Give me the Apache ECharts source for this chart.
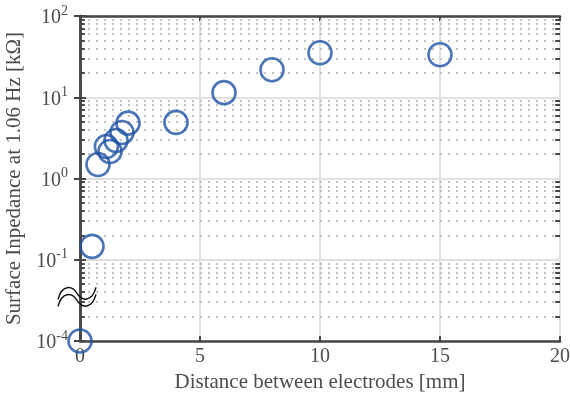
<!DOCTYPE html>
<html><head><meta charset="utf-8">
<script src="https://cdn.jsdelivr.net/npm/echarts@6/dist/echarts.min.js"></script>
<style>html,body{margin:0;padding:0;background:#fff}#c{width:570px;height:396px}</style>
</head><body><div id="c"></div>
<script>
const distances = [0, 0.5, 0.75, 1.1, 1.25, 1.5, 1.75, 2, 4, 6, 8, 10, 15];
const impedances = [1e-4, 0.146, 1.49, 2.48, 2.15, 2.93, 3.68, 4.8, 4.9, 11.4, 21.8, 35.3, 33.3];
const xTicks = [0, 5, 10, 15, 20];
const yDecades = [-2, -1, 0, 1, 2];
const yTickLabels = ['-4', '-1', '0', '1', '2'];
const xName = 'Distance between electrodes [mm]';
const yName = 'Surface Inpedance at 1.06 Hz [kΩ]';

const FONT = 'Liberation Serif';
const TXT = '#4d4d4d';
const FRAME = '#464646';
// broken axis: values below the break are shown two decades higher
const BREAK_BELOW = 0.01, BREAK_SHIFT = 100;
function toAxis(v){ return v < BREAK_BELOW ? v * BREAK_SHIFT : v; }

const minorVals = [];
for (let k = -2; k <= 1; k++) for (let m = 2; m <= 9; m++) minorVals.push(m * Math.pow(10, k));

const gridLines = minorVals.map(v => ({yAxis: v}));
const tickLines = [];
minorVals.forEach(v => {
  tickLines.push([{coord: [0, v]}, {coord: [0.2, v]}]);
  tickLines.push([{coord: [19.8, v]}, {coord: [20, v]}]);
});

const chart = echarts.init(document.getElementById('c'), null, {renderer: 'canvas'});
const labelFmt = v => {
  const e = Math.round(Math.log10(v));
  const i = yDecades.indexOf(e);
  return i < 0 ? '' : '{b|10}{e|' + yTickLabels[i] + '}';
};
const rich = {
  b: {fontFamily: FONT, fontSize: 20, color: TXT, verticalAlign: 'bottom', lineHeight: 24, padding: [8, 0, 0, 0]},
  e: {fontFamily: FONT, fontSize: 14, color: TXT, verticalAlign: 'top', lineHeight: 24, padding: [0, 0, 4, 0]}
};
const yBase = {type: 'log', logBase: 10, min: 0.01, max: 100, interval: 1};
chart.setOption({
  animation: false,
  grid: {left: 80, right: 10, top: 16, bottom: 55, show: false, containLabel: false, outerBoundsMode: 'none'},
  xAxis: [{
    type: 'value', min: xTicks[0], max: xTicks[xTicks.length - 1], interval: 5,
    name: xName, nameLocation: 'middle', nameGap: 31,
    nameTextStyle: {fontFamily: FONT, fontSize: 21, color: TXT},
    axisLine: {show: true, lineStyle: {color: FRAME, width: 2.5}},
    axisTick: {show: true, inside: true, length: 5, lineStyle: {color: FRAME, width: 2}},
    axisLabel: {fontFamily: FONT, fontSize: 20, color: TXT, margin: 6},
    splitLine: {show: true, lineStyle: {color: '#e0e0e0', width: 2}}
  }, {
    type: 'value', position: 'top', min: 0, max: 20, interval: 5,
    axisLine: {show: true, lineStyle: {color: FRAME, width: 2.5}},
    axisTick: {show: true, inside: true, length: 5, lineStyle: {color: FRAME, width: 2}},
    axisLabel: {show: false}, splitLine: {show: false}
  }],
  yAxis: [Object.assign({}, yBase, {
    name: yName, nameLocation: 'middle', nameGap: 48,
    nameTextStyle: {fontFamily: FONT, fontSize: 21, color: TXT},
    axisLine: {show: true, lineStyle: {color: FRAME, width: 2.5}},
    axisTick: {show: true, inside: true, length: 6, lineStyle: {color: FRAME, width: 2}},
    axisLabel: {formatter: labelFmt, rich: rich, margin: 12},
    splitLine: {show: true, lineStyle: {color: '#e0e0e0', width: 2}}
  }), Object.assign({}, yBase, {
    position: 'right',
    axisLine: {show: true, lineStyle: {color: FRAME, width: 2.5}},
    axisTick: {show: true, inside: true, length: 6, lineStyle: {color: FRAME, width: 2}},
    axisLabel: {show: false}, splitLine: {show: false}
  })],
  series: [{
    type: 'line', data: [], silent: true, z: 1,
    markLine: {silent: true, symbol: 'none', label: {show: false}, animation: false,
      lineStyle: {color: '#c2c2c2', width: 2, type: [2, 6]}, data: gridLines}
  }, {
    type: 'line', data: [], silent: true, z: 5,
    markLine: {silent: true, symbol: 'none', label: {show: false}, animation: false,
      lineStyle: {color: FRAME, width: 2, type: 'solid'}, data: tickLines}
  }, {
    type: 'scatter', z: 10,
    data: distances.map((d, i) => [d, toAxis(impedances[i])]),
    symbol: 'circle', symbolSize: 23,
    itemStyle: {color: 'rgba(0,0,0,0)', borderColor: '#1f52a3', borderWidth: 2.6}
  }]
});

// axis-break symbol
const p = chart.convertToPixel({gridIndex: 0}, [0, Math.sqrt(0.01 * 0.1)]);
const cx = p[0] - 3, cy = p[1] - 4;
function wave(dy){
  const y = cy + dy;
  const st = {stroke: '#111', lineWidth: 1.5, fill: null};
  return [
    {type: 'bezierCurve', z: 100, shape: {x1: cx - 19, y1: y + 6, cpx1: cx - 15, cpy1: y - 9, cpx2: cx - 5, cpy2: y - 8, x2: cx, y2: y}, style: st},
    {type: 'bezierCurve', z: 100, shape: {x1: cx, y1: y, cpx1: cx + 5, cpy1: y + 8, cpx2: cx + 15, cpy2: y + 9, x2: cx + 19, y2: y - 6}, style: st}
  ];
}
chart.setOption({graphic: wave(-3).concat(wave(4))});
</script></body></html>
